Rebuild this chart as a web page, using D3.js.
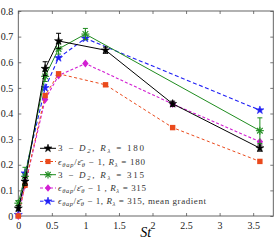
<!DOCTYPE html>
<html lang="en">
<head>
<meta charset="utf-8">
<script src="https://cdn.jsdelivr.net/npm/d3@7"></script>
<style>
  body { margin: 0; background: #fff; }
  text { font-family: "Liberation Serif", "DejaVu Serif", serif; }
</style>
</head>
<body>
<script>
// St values and the curves
var stBlack = [0, 0.1, 0.4, 0.6, 1.3, 2.3, 3.6];
var dimBlack = [0.03, 0.135, 0.575, 0.683, 0.647, 0.438, 0.265];
var errBlack = [0.01, 0.015, 0.027, 0.03, 0.012, 0.01, 0.012];

var stRed = [0, 0.1, 0.4, 0.6, 1.3, 2.3, 3.6];
var ratioRed = [0.0, 0.12, 0.47, 0.555, 0.512, 0.345, 0.213];

var stGreen = [0, 0.1, 0.4, 0.6, 1.0, 3.6];
var dimGreen = [0.05, 0.155, 0.545, 0.652, 0.71, 0.333];
var errGreen = [0.01, 0.035, 0.02, 0.02, 0.022, 0.05];

var stMagenta = [0, 0.1, 0.4, 0.6, 1.0, 2.3, 3.6];
var ratioMagenta = [0.0, 0.12, 0.455, 0.548, 0.595, 0.437, 0.29];

var stBlue = [0, 0.1, 0.4, 0.6, 1.0, 3.6];
var ratioBlue = [0.005, 0.167, 0.5, 0.617, 0.693, 0.413];

var xTicks = [0, 0.5, 1, 1.5, 2, 2.5, 3, 3.5];
var yTicks = [0, 0.1, 0.2, 0.3, 0.4, 0.5, 0.6, 0.7, 0.8];

var W = 278, H = 251;
var mLeft = 18.3, mRight = 273.3, mTop = 11, mBottom = 216;

var x = d3.scaleLinear().domain([0, 3.8]).range([mLeft, mRight]);
var y = d3.scaleLinear().domain([0, 0.8]).range([mBottom, mTop]);

var svg = d3.select("body").append("svg")
    .attr("width", W).attr("height", H);

function zip(xs, ys, es) {
  return xs.map(function (v, i) { return { x: v, y: ys[i], e: es ? es[i] : 0 }; });
}

var series = [
  { pts: zip(stBlue, ratioBlue), color: "#1f1ff5", dash: "4,2.5", marker: "star", width: 1.1 },
  { pts: zip(stMagenta, ratioMagenta), color: "#d21fd2", dash: "3,2", marker: "diamond", width: 1.1 },
  { pts: zip(stRed, ratioRed), color: "#ea4a1c", dash: "3,2.5", marker: "square", width: 1 },
  { pts: zip(stGreen, dimGreen, errGreen), color: "#1f8c1f", dash: null, marker: "asterisk", width: 1, err: true },
  { pts: zip(stBlack, dimBlack, errBlack), color: "#000", dash: null, marker: "star", width: 1, err: true }
];

// frame and ticks
svg.append("rect").attr("x", mLeft).attr("y", mTop)
  .attr("width", mRight - mLeft).attr("height", mBottom - mTop)
  .attr("fill", "none").attr("stroke", "#555").attr("stroke-width", 0.9);

var gx = svg.append("g").attr("transform", "translate(0," + mBottom + ")")
  .call(d3.axisBottom(x).tickValues(xTicks).tickSizeInner(-3).tickSizeOuter(0)
    .tickPadding(6).tickFormat(d3.format("~g")));
var gxt = svg.append("g").attr("transform", "translate(0," + mTop + ")")
  .call(d3.axisTop(x).tickValues(xTicks).tickSizeInner(-3).tickSizeOuter(0).tickFormat(""));
var gy = svg.append("g").attr("transform", "translate(" + mLeft + ",0)")
  .call(d3.axisLeft(y).tickValues(yTicks).tickSizeInner(-3).tickSizeOuter(0)
    .tickPadding(5).tickFormat(d3.format("~g")));
var gyr = svg.append("g").attr("transform", "translate(" + mRight + ",0)")
  .call(d3.axisRight(y).tickValues(yTicks).tickSizeInner(-3).tickSizeOuter(0).tickFormat(""));

[gx, gxt, gy, gyr].forEach(function (g) {
  g.select(".domain").remove();
  g.selectAll("line").attr("stroke", "#555").attr("stroke-width", 0.8);
  g.selectAll("text").attr("fill", "#222").style("font-size", "10px")
    .style("font-family", "'Liberation Serif', serif");
});

svg.append("text").attr("x", (mLeft + mRight) / 2).attr("y", 237)
  .attr("text-anchor", "middle").style("font-size", "14px").style("font-style", "italic")
  .text("St");

// markers
var starPath = d3.symbol().type(d3.symbolStar);
function drawMarker(g, type, cx, cy, color, scale) {
  scale = scale || 1;
  if (type === "star") {
    g.append("path").attr("d", starPath.size(20 * scale)())
      .attr("transform", "translate(" + cx + "," + cy + ")")
      .attr("fill", color).attr("stroke", color).attr("stroke-width", 0.6);
  } else if (type === "square") {
    g.append("rect").attr("x", cx - 2.7 * scale).attr("y", cy - 2.7 * scale)
      .attr("width", 5.4 * scale).attr("height", 5.4 * scale).attr("fill", color);
  } else if (type === "diamond") {
    var r = 4 * scale;
    g.append("path").attr("d", "M" + cx + "," + (cy - r) + "L" + (cx + r * 0.8) + "," + cy +
        "L" + cx + "," + (cy + r) + "L" + (cx - r * 0.8) + "," + cy + "Z").attr("fill", color);
  } else if (type === "asterisk") {
    var a = 4 * scale;
    for (var k = 0; k < 4; k++) {
      var ang = k * Math.PI / 4;
      g.append("line")
        .attr("x1", cx - a * Math.cos(ang)).attr("y1", cy - a * Math.sin(ang))
        .attr("x2", cx + a * Math.cos(ang)).attr("y2", cy + a * Math.sin(ang))
        .attr("stroke", color).attr("stroke-width", 1.1);
    }
  }
}

var line = d3.line().x(function (d) { return x(d.x); }).y(function (d) { return y(d.y); });

series.forEach(function (s) {
  var g = svg.append("g");
  g.append("path").attr("d", line(s.pts)).attr("fill", "none")
    .attr("stroke", s.color).attr("stroke-width", s.width)
    .attr("stroke-dasharray", s.dash);
  if (s.err) {
    s.pts.forEach(function (p) {
      var px = x(p.x), y1 = y(p.y + p.e), y2 = y(p.y - p.e);
      g.append("line").attr("x1", px).attr("x2", px).attr("y1", y1).attr("y2", y2)
        .attr("stroke", s.color).attr("stroke-width", 1);
      [y1, y2].forEach(function (yy) {
        g.append("line").attr("x1", px - 2.5).attr("x2", px + 2.5).attr("y1", yy).attr("y2", yy)
          .attr("stroke", s.color).attr("stroke-width", 1);
      });
    });
  }
  s.pts.forEach(function (p) { drawMarker(g, s.marker, x(p.x), y(p.y), s.color); });
});

// legend
var legend = [
  { color: "#000", dash: null, marker: "star", len: 86, parts: [["3 − ", ""], ["D", "i"], ["2", "sub"], [",  ", ""], ["R", "i"], ["λ", "sub"], [" = 180", ""]] },
  { color: "#ea4a1c", dash: "3,2", marker: "square", len: 87, parts: [["ϵ", "i"], ["θap", "sub"], ["/", ""], ["ε̄", "i"], ["θ", "sub"], [" − 1,  ", ""], ["R", "i"], ["λ", "sub"], [" = 180", ""]] },
  { color: "#1f8c1f", dash: null, marker: "asterisk", len: 86, parts: [["3 − ", ""], ["D", "i"], ["2", "sub"], [",  ", ""], ["R", "i"], ["λ", "sub"], [" = 315", ""]] },
  { color: "#d21fd2", dash: "3,2", marker: "diamond", len: 88, parts: [["ϵ", "i"], ["θap", "sub"], ["/", ""], ["ε̄", "i"], ["θ", "sub"], [" − 1 ,  ", ""], ["R", "i"], ["λ", "sub"], [" = 315", ""]] },
  { color: "#1f1ff5", dash: "3.5,2", marker: "star", len: 148, parts: [["ϵ", "i"], ["θap", "sub"], ["/", ""], ["ε̄", "i"], ["θ", "sub"], [" − 1,  ", ""], ["R", "i"], ["λ", "sub"], [" = 315,  mean gradient", ""]] }
];
var legY = [148.3, 161.5, 174.7, 188, 201.2];

legend.forEach(function (l, i) {
  var yy = legY[i];
  var g = svg.append("g");
  g.append("line").attr("x1", 40).attr("x2", 56).attr("y1", yy).attr("y2", yy)
    .attr("stroke", l.color).attr("stroke-width", 1).attr("stroke-dasharray", l.dash);
  drawMarker(g, l.marker, 48, yy, l.color, 0.95);
  var t = g.append("text").attr("x", 58).attr("y", yy + 3).style("font-size", "9px")
    .attr("fill", "#333").attr("textLength", l.len).attr("lengthAdjust", "spacing");
  l.parts.forEach(function (p, k) {
    var ts = t.append("tspan").text(p[0]);
    var prevSub = k > 0 && l.parts[k - 1][1] === "sub";
    var curSub = p[1] === "sub";
    if (curSub) ts.style("font-size", "6.5px").style("font-style", "italic");
    if (p[1] === "i") ts.style("font-style", "italic");
    ts.attr("dy", curSub && !prevSub ? 2 : (!curSub && prevSub ? -2 : 0));
  });
});
</script>
</body>
</html>
